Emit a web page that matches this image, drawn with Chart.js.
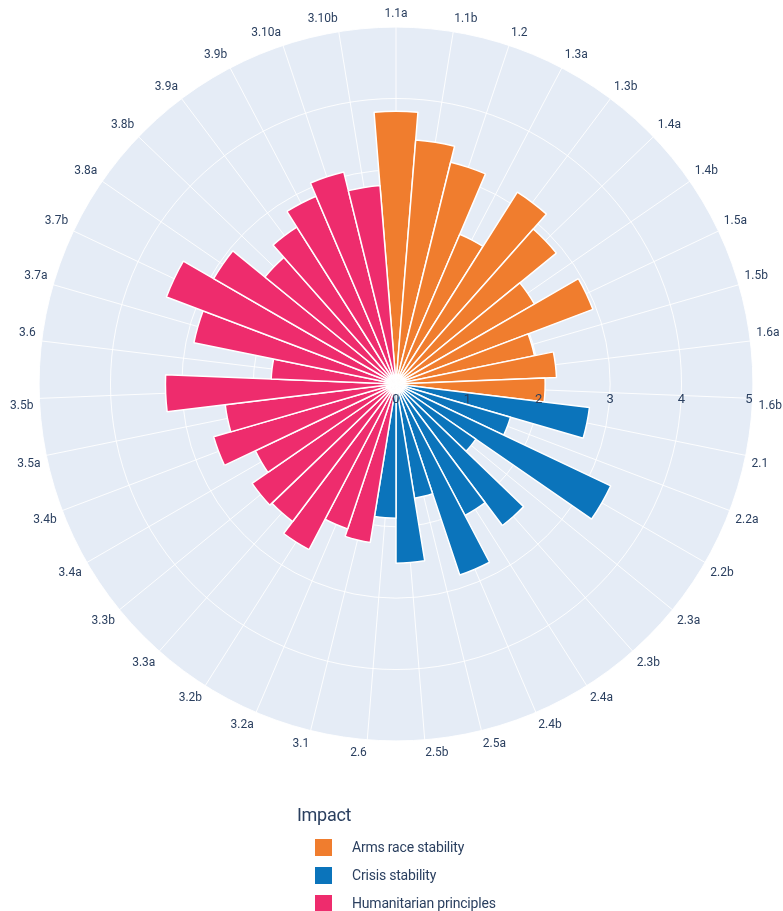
<!DOCTYPE html>
<html>
<head>
<meta charset="utf-8">
<script src="https://cdn.jsdelivr.net/npm/chart.js@4.4.1/dist/chart.umd.min.js"></script>
<style>
  body { margin: 0; background: #ffffff; }
  #wrap { position: relative; width: 783px; height: 911px; }
  #legend {
    position: absolute; left: 297px; top: 804px;
    font-family: "Roboto", sans-serif; color: #2a3f5f;
  }
  #legend .title { font-size: 18px; margin-bottom: 8px; letter-spacing: -0.3px; }
  #legend .item { display: flex; align-items: center; height: 28px; margin-left: 18px; font-size: 14px; letter-spacing: -0.2px; }
  #legend .box { width: 17px; height: 17px; margin-right: 20px; }
</style>
</head>
<body>
<div id="wrap">
  <canvas id="chart"></canvas>
  <div id="legend"></div>
</div>
<script>
// categories and values, one group per impact
var armsCats = ['1.1a', '1.1b', '1.2', '1.3a', '1.3b', '1.4a', '1.4b', '1.5a', '1.5b', '1.6a', '1.6b'];
var armsVals = [3.82, 3.43, 3.20, 2.28, 3.18, 2.90, 2.24, 2.95, 1.98, 2.25, 2.09];

var crisisCats = ['2.1', '2.2a', '2.2b', '2.3a', '2.3b', '2.4a', '2.4b', '2.5a', '2.5b', '2.6'];
var crisisVals = [2.73, 1.67, 3.33, 1.36, 2.48, 2.08, 2.82, 1.62, 2.51, 1.88];

var humCats = ['3.1', '3.2a', '3.2b', '3.3a', '3.3b', '3.4a', '3.4b', '3.5a', '3.5b', '3.6',
    '3.7a', '3.7b', '3.8a', '3.8b', '3.9a', '3.9b', '3.10a', '3.10b'];
var humVals = [2.25, 2.14, 2.62, 2.41, 2.45, 2.18, 2.66, 2.41, 3.23, 1.75,
    2.89, 3.44, 2.95, 2.37, 2.60, 2.86, 3.06, 2.79];

var radialTicks = [0, 1, 2, 3, 4, 5];

var groups = [
    { name: 'Arms race stability', color: '#F07D2E', cats: armsCats, vals: armsVals },
    { name: 'Crisis stability', color: '#0B74BB', cats: crisisCats, vals: crisisVals },
    { name: 'Humanitarian principles', color: '#EE2C6D', cats: humCats, vals: humVals }
];

var labels = [];
var values = [];
var colors = [];
groups.forEach(function (g) {
    g.cats.forEach(function (c, i) {
        labels.push(c);
        values.push(g.vals[i]);
        colors.push(g.color);
    });
});

var n = labels.length;
var labelColor = '#2a3f5f';
var fontFamily = '"Roboto", sans-serif';

// angle lines through the middle of each bar + radial tick labels on the right
var polarExtras = {
    id: 'polarExtras',
    beforeDatasetsDraw: function (chart) {
        var r = chart.scales.r;
        var ctx = chart.ctx;
        ctx.save();
        ctx.strokeStyle = 'rgba(255,255,255,0.9)';
        ctx.lineWidth = 1;
        for (var i = 0; i < n; i++) {
            var p = r.getPointPosition(i, r.drawingArea, Math.PI / n);
            ctx.beginPath();
            ctx.moveTo(r.xCenter, r.yCenter);
            ctx.lineTo(p.x, p.y);
            ctx.stroke();
        }
        ctx.restore();
    },
    afterDatasetsDraw: function (chart) {
        var r = chart.scales.r;
        var ctx = chart.ctx;
        ctx.save();
        ctx.fillStyle = labelColor;
        ctx.font = '13px ' + fontFamily;
        ctx.textAlign = 'center';
        ctx.textBaseline = 'middle';
        radialTicks.forEach(function (v) {
            var d = r.getDistanceFromCenterForValue(v);
            ctx.fillText(String(v), r.xCenter + d - (v === 5 ? 4 : 0), r.yCenter + 16);
        });
        ctx.restore();
    }
};

var chart = new Chart(document.getElementById('chart'), {
    type: 'polarArea',
    data: {
        labels: labels,
        datasets: [{
            data: values,
            backgroundColor: colors,
            borderColor: '#ffffff',
            borderWidth: 1.5
        }]
    },
    options: {
        responsive: true,
        maintainAspectRatio: false,
        animation: false,
        layout: {
            padding: { top: 2, bottom: 146, left: 10, right: 0 }
        },
        plugins: {
            legend: { display: false },
            tooltip: { enabled: false }
        },
        scales: {
            r: {
                min: 0,
                max: 5,
                startAngle: -180 / n,
                backgroundColor: '#e5ecf6',
                ticks: { display: false, stepSize: 1 },
                grid: { color: 'rgba(255,255,255,0.9)', lineWidth: 1, circular: true },
                angleLines: { display: false },
                pointLabels: {
                    display: true,
                    centerPointLabels: true,
                    padding: 6,
                    color: labelColor,
                    font: { size: 12, family: fontFamily }
                }
            }
        }
    },
    plugins: [polarExtras]
});

// legend below the chart
var legend = document.getElementById('legend');
var html = '<div class="title">Impact</div>';
groups.forEach(function (g) {
    html += '<div class="item"><span class="box" style="background:' + g.color + '"></span>' + g.name + '</div>';
});
legend.innerHTML = html;
</script>
</body>
</html>
